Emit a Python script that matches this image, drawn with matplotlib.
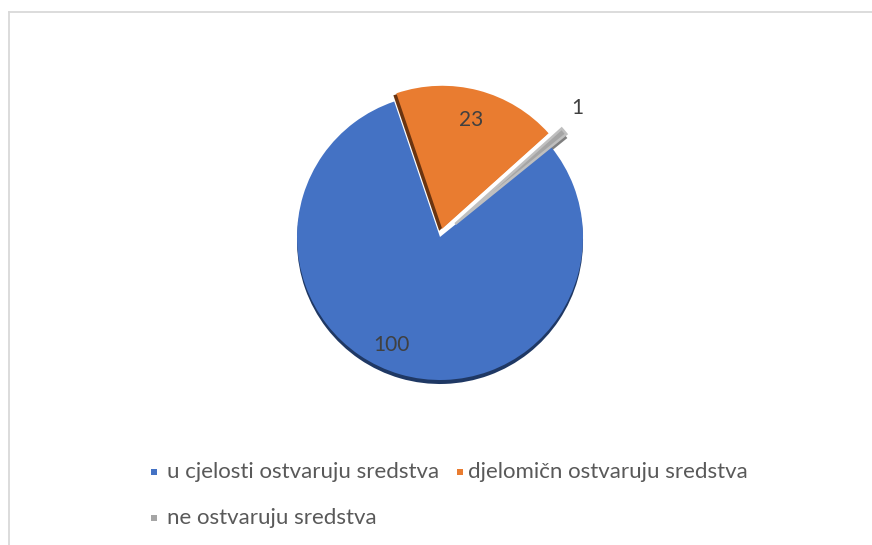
import matplotlib.pyplot as plt
from matplotlib.patches import Rectangle, Wedge
import numpy as np

# Podaci
kategorije = ["u cjelosti ostvaruju sredstva", "djelomičn ostvaruju sredstva", "ne ostvaruju sredstva"]
vrijednosti = [100, 23, 1]
boje = ["#4472C4", "#E97C30", "#A5A5A5"]
sjene = ["#1F3864", "#6B3410", "#7F7F7F"]

W, H = 872, 545
plt.rcParams['font.family'] = ['Lato', 'DejaVu Sans']

fig = plt.figure(figsize=(W / 100, H / 100), dpi=100)
ax = fig.add_axes([0, 0, 1, 1])

# Pita (koordinate u pikselima, y prema gore)
cx, cy, r = 440, H - 237, 143
explode = [0, 8.5, 20]
wedges, _ = ax.pie(vrijednosti, colors=boje, startangle=39, counterclock=False,
                   explode=explode, radius=r, center=(cx, cy),
                   wedgeprops=dict(linewidth=0, zorder=3))

# Lazni 3D rub ispod svakog isjecka
pomaci_sjene = [(0, -4), (-3, -2), (1, -4)]
for w, boja, (dx, dy) in zip(wedges, sjene, pomaci_sjene):
    s = Wedge((w.center[0] + dx, w.center[1] + dy), w.r, w.theta1, w.theta2,
              facecolor=boja, linewidth=0, zorder=2)
    ax.add_patch(s)
# sivi isjecak malo deblji, s rubom
wedges[2].set_edgecolor("#bfbfbf")
wedges[2].set_linewidth(1.8)

# Oznake vrijednosti
udaljenost = [0.83, 0.79, 1.18]
kut_pomak = [-8, 0, 3]
for w, v, d, kp in zip(wedges, vrijednosti, udaljenost, kut_pomak):
    t = np.deg2rad((w.theta1 + w.theta2) / 2 + kp)
    ax.text(w.center[0] + d * r * np.cos(t), w.center[1] + d * r * np.sin(t), str(v),
            ha="center", va="center", fontsize=15, color="#404040", zorder=5)

# Legenda
legenda_x = [(151, 167), (457, 468), (151, 167)]
legenda_y = [472, 472, 518]
for naziv, boja, (mx, tx), ly in zip(kategorije, boje, legenda_x, legenda_y):
    ax.add_patch(Rectangle((mx, H - ly - 3), 6, 6, facecolor=boja, linewidth=0))
    ax.text(tx, H - ly, naziv, ha="left", va="center", fontsize=16, color="#595959")

# Okvir grafikona
ax.plot([8.5, 8.5], [0, H - 11.5], color="#d9d9d9", lw=1.3)
ax.plot([8.5, W], [H - 11.5, H - 11.5], color="#d9d9d9", lw=1.3)

ax.set_xlim(0, W)
ax.set_ylim(0, H)
ax.set_aspect("auto")
ax.axis("off")

fig.savefig("out.png", dpi=100)
